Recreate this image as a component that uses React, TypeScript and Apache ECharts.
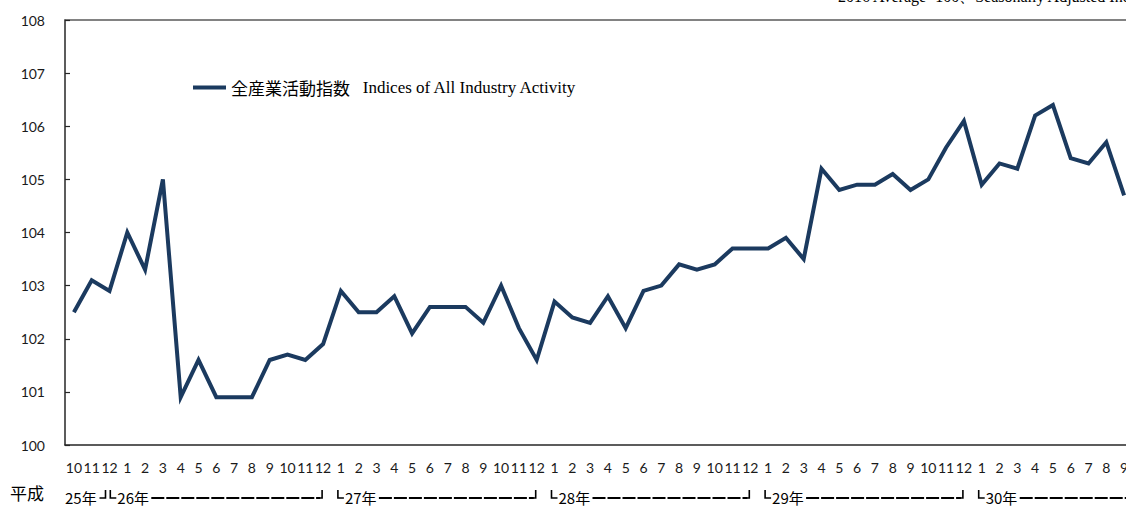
import React, { useEffect, useRef } from "react";
import * as echarts from "echarts";

// Month labels (平成25年10月 – 平成30年9月)
const monthLabels = [
  "10", "11", "12",
  "1", "2", "3", "4", "5", "6", "7", "8", "9", "10", "11", "12",
  "1", "2", "3", "4", "5", "6", "7", "8", "9", "10", "11", "12",
  "1", "2", "3", "4", "5", "6", "7", "8", "9", "10", "11", "12",
  "1", "2", "3", "4", "5", "6", "7", "8", "9", "10", "11", "12",
  "1", "2", "3", "4", "5", "6", "7", "8", "9",
];

// 全産業活動指数 (2010 Average=100, Seasonally Adjusted)
const activityIndex = [
  102.5, 103.1, 102.9,
  104.0, 103.3, 105.0, 100.9, 101.6, 100.9, 100.9, 100.9, 101.6, 101.7, 101.6, 101.9,
  102.9, 102.5, 102.5, 102.8, 102.1, 102.6, 102.6, 102.6, 102.3, 103.0, 102.2, 101.6,
  102.7, 102.4, 102.3, 102.8, 102.2, 102.9, 103.0, 103.4, 103.3, 103.4, 103.7, 103.7,
  103.7, 103.9, 103.5, 105.2, 104.8, 104.9, 104.9, 105.1, 104.8, 105.0, 105.6, 106.1,
  104.9, 105.3, 105.2, 106.2, 106.4, 105.4, 105.3, 105.7, 104.7,
];

// Year groups: label, first month index, last month index
const yearGroups = [
  { label: "25年", from: 0, to: 2 },
  { label: "26年", from: 3, to: 14 },
  { label: "27年", from: 15, to: 26 },
  { label: "28年", from: 27, to: 38 },
  { label: "29年", from: 39, to: 50 },
  { label: "30年", from: 51, to: 62 },
];

const eraLabel = "平成";
const seriesName = "全産業活動指数 Indices of All Industry Activity";
const noteText = "2016 Average=100、Seasonally Adjusted Index";

const categories = monthLabels.map((m, i) => `${i}-${m}`);

export default function App() {
  const ref = useRef<HTMLDivElement>(null);

  useEffect(() => {
    if (!ref.current) return;
    const chart = echarts.init(ref.current, undefined, { renderer: "svg" });
    const axisColor = "#262626";
    const option: any = {
      animation: false,
      grid: { left: 65, right: 1, top: 20, bottom: 61, containLabel: false },
      legend: {
        left: 193,
        top: 79,
        padding: 0,
        icon: "rect",
        itemWidth: 33,
        itemHeight: 4,
        itemGap: 4,
        data: [seriesName],
        formatter: () => "{a|全産業活動指数}{b|   Indices of All Industry Activity}",
        textStyle: {
          rich: {
            a: { fontFamily: "Noto Sans CJK JP", fontSize: 17, color: "#000" },
            b: { fontFamily: "Liberation Serif", fontSize: 17, color: "#000" },
          },
        },
      },
      xAxis: [
        {
          type: "category",
          data: categories,
          boundaryGap: true,
          axisLine: { show: true, lineStyle: { color: axisColor, width: 1.5 } },
          axisTick: { show: false },
          splitLine: { show: false },
          axisLabel: {
            interval: 0,
            margin: 15,
            fontSize: 14,
            fontFamily: "Lato",
            color: "#1a1a1a",
            formatter: (v: string) => v.split("-")[1],
          },
        },
        {
          type: "category",
          data: categories,
          position: "top",
          boundaryGap: true,
          axisLine: { show: true, lineStyle: { color: "#595959", width: 1.5 } },
          axisTick: { show: false },
          axisLabel: { show: false },
          splitLine: { show: false },
        },
      ],
      yAxis: {
        type: "value",
        min: 100,
        max: 108,
        interval: 1,
        axisLine: { show: true, lineStyle: { color: axisColor, width: 1.5 } },
        axisTick: { show: true, inside: true, length: 5, lineStyle: { color: axisColor, width: 1.2 } },
        splitLine: { show: false },
        axisLabel: { margin: 20, fontSize: 14, fontFamily: "Lato", color: "#1a1a1a" },
      },
      series: [
        {
          name: seriesName,
          type: "line",
          data: activityIndex,
          symbol: "none",
          showSymbol: false,
          lineStyle: { color: "#1b3a5f", width: 4, join: "miter" },
          itemStyle: { color: "#1b3a5f" },
        },
      ],
    };
    chart.setOption(option);

    const px = (i: number) => chart.convertToPixel({ xAxisIndex: 0 }, i) as number;
    const yText = 497;
    const yDash = 498;
    const graphics: any[] = [
      {
        type: "text",
        left: 838,
        top: -12,
        style: { text: noteText, font: '16px "Liberation Serif"', fill: "#000" },
      },
      {
        type: "text",
        x: 10,
        y: 492,
        style: {
          text: eraLabel,
          font: '17px "Noto Sans CJK JP"',
          fill: "#000",
          verticalAlign: "middle",
          textAlign: "left",
        },
      },
    ];
    yearGroups.forEach((g, k) => {
      const fontStr = '15px "Noto Sans CJK JP"';
      if (k === 0) {
        const endX = px(g.to) - 4;
        graphics.push({
          type: "text",
          x: 65,
          y: yText,
          style: { text: g.label, font: fontStr, fill: "#000", verticalAlign: "middle" },
        });
        graphics.push({
          type: "polyline",
          shape: { points: [[endX - 6, yDash], [endX, yDash], [endX, yDash - 8]] },
          style: { stroke: "#000", lineWidth: 1.6, fill: null },
        });
        return;
      }
      const startX = k === 1 ? px(g.from) - 17 : px(g.from) - 3;
      const textW = 33;
      graphics.push({
        type: "polyline",
        shape: { points: [[startX, yDash - 8], [startX, yDash], [startX + 6, yDash]] },
        style: { stroke: "#000", lineWidth: 1.6, fill: null },
      });
      graphics.push({
        type: "text",
        x: startX + 7,
        y: yText,
        style: { text: g.label, font: fontStr, fill: "#000", verticalAlign: "middle" },
      });
      const dashStart = startX + 7 + textW + 1;
      const endX = g.to < monthLabels.length ? px(g.to) - 1 : 1200;
      graphics.push({
        type: "line",
        shape: { x1: dashStart, y1: yDash, x2: endX - 2, y2: yDash },
        style: { stroke: "#000", lineWidth: 1.8, lineDash: [13, 2] },
      });
      if (g.to < monthLabels.length) {
        graphics.push({
          type: "polyline",
          shape: { points: [[endX - 6, yDash], [endX, yDash], [endX, yDash - 8]] },
          style: { stroke: "#000", lineWidth: 1.6, fill: null },
        });
      }
    });
    chart.setOption({ graphic: graphics });

    return () => chart.dispose();
  }, []);

  return (
    <div
      style={{
        position: "absolute",
        left: 0,
        top: 0,
        width: 1126,
        height: 506,
        overflow: "hidden",
        background: "#fff",
      }}
    >
      <div ref={ref} style={{ width: 1134, height: 506 }} />
    </div>
  );
}
